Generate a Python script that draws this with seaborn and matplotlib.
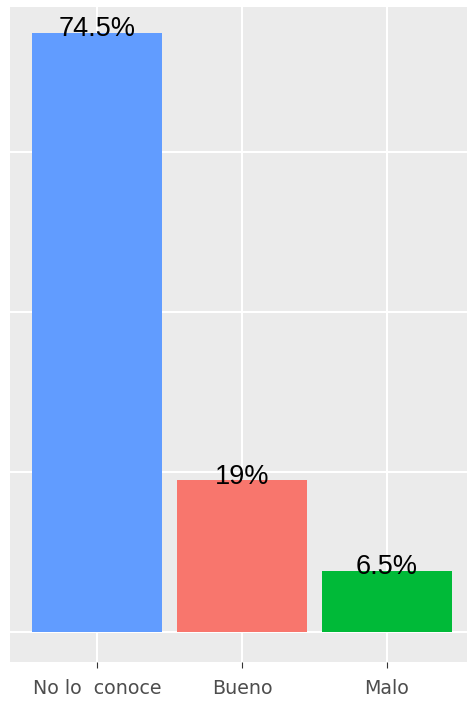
import matplotlib
matplotlib.use("Agg")
import matplotlib.pyplot as plt
import seaborn as sns
import pandas as pd

categories = ["No lo  conoce", "Bueno", "Malo"]
values = [74.9, 19.0, 7.7]
labels = ["74.5%", "19%", "6.5%"]
colors = ["#619CFF", "#F8766D", "#00BA38"]

sns.set_theme(style="darkgrid", rc={
    "axes.facecolor": "#EBEBEB",
    "grid.color": "white",
    "grid.linewidth": 1.5,
    "axes.edgecolor": "#EBEBEB",
})
plt.rcParams["font.family"] = ["DejaVu Sans"]

df = pd.DataFrame({"cat": categories, "val": values})

fig = plt.figure(figsize=(4.67, 7.02), dpi=100)
W, H = 467, 702
ax = fig.add_axes([10 / W, 1 - 662 / H, (467 - 10) / W, (662 - 7) / H])

sns.barplot(data=df, x="cat", y="val", hue="cat", palette=colors, legend=False,
            width=0.9, saturation=1, linewidth=0, edgecolor="none", ax=ax, zorder=3)

for i, (v, t) in enumerate(zip(values, labels)):
    ax.text(i, v + 0.4, t, ha="center", va="center", fontsize=19.5,
            family=["Liberation Sans", "DejaVu Sans"], color="black", zorder=4)

ax.set_xlim(-0.6, (467 - 97) / 145)
ax.set_ylim(-3.725, 78.1)
ax.set_yticks([0, 20, 40, 60])
ax.set_yticklabels([])
ax.tick_params(axis="y", length=0)
ax.tick_params(axis="x", length=4, width=0.8, color="#333333", pad=8,
               labelsize=13.7, labelcolor="#4D4D4D", bottom=True)
ax.set_xlabel("")
ax.set_ylabel("")
ax.grid(True, axis="both", color="white", linewidth=1.5, zorder=0)
ax.set_axisbelow(True)
for s in ax.spines.values():
    s.set_visible(False)

fig.savefig("out.png", dpi=100)
